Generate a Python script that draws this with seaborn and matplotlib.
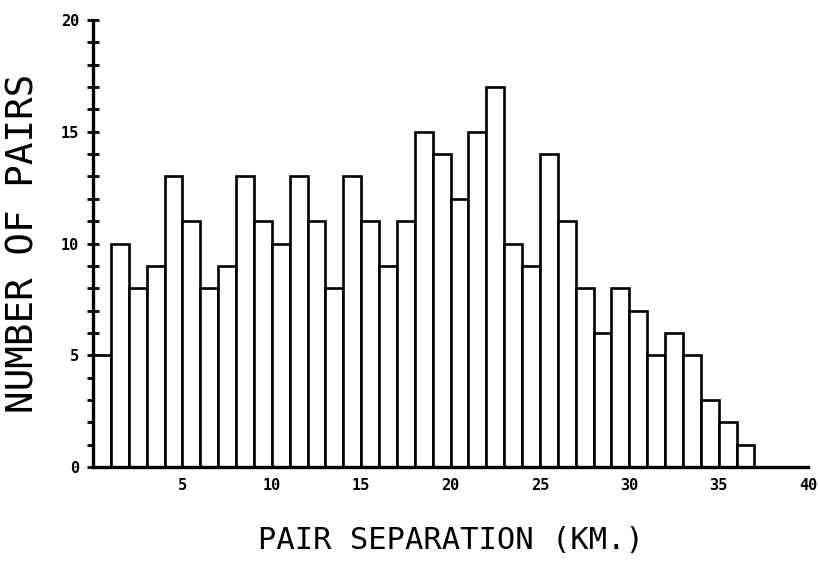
import matplotlib
matplotlib.use("Agg")
import matplotlib.pyplot as plt
import numpy as np
import pandas as pd
import seaborn as sns

# histogram counts, one bin per km (0-37 km)
bin_edges = list(range(0, 38))
pair_counts = [5, 10, 8, 9, 13, 11, 8, 9, 13, 11, 10, 13, 11, 8, 13, 11, 9, 11,
               15, 14, 12, 15, 17, 10, 9, 14, 11, 8, 6, 8, 7, 5, 6, 5, 3, 2, 1]
x_ticks = [5, 10, 15, 20, 25, 30, 35, 40]
y_ticks = [0, 5, 10, 15, 20]

sns.set_theme(style="white")
plt.rcParams['font.family'] = ['DejaVu Sans Mono', 'DejaVu Sans']
plt.rcParams['text.color'] = 'black'
plt.rcParams['axes.labelcolor'] = 'black'
plt.rcParams['xtick.color'] = 'black'
plt.rcParams['ytick.color'] = 'black'

centers = [e + 0.5 for e in bin_edges[:-1]]
df = pd.DataFrame({"sep": centers, "n": pair_counts})

fig = plt.figure(figsize=(8.18, 5.68), dpi=100)
ax = fig.add_axes([0.1137, 0.1778, 0.8741, 0.787])

sns.histplot(data=df, x="sep", weights="n", bins=bin_edges, ax=ax,
             color="white", edgecolor="black", linewidth=1.9, alpha=1)

ax.set_xlim(0, 40)
ax.set_ylim(0, 20)

for s in ["top", "right"]:
    ax.spines[s].set_visible(False)
for s in ["left", "bottom"]:
    ax.spines[s].set_color("black")
    ax.spines[s].set_linewidth(2.4)

ax.set_xticks(x_ticks)
ax.set_xticklabels([str(t) for t in x_ticks], fontsize=11, fontweight="bold")
ax.tick_params(axis="x", length=0, pad=8)

ax.set_yticks(y_ticks)
ax.set_yticklabels([str(t) for t in y_ticks], fontsize=11, fontweight="bold")
ax.set_yticks(np.arange(0, 21, 1), minor=True)
ax.tick_params(axis="y", which="both", direction="inout", length=8, width=2,
               color="black", left=True, pad=6)

ax.set_xlabel("PAIR SEPARATION (KM.)", fontsize=22, labelpad=24)
ax.set_ylabel("NUMBER OF PAIRS", fontsize=27, labelpad=14)

fig.savefig("out.png", dpi=100)
